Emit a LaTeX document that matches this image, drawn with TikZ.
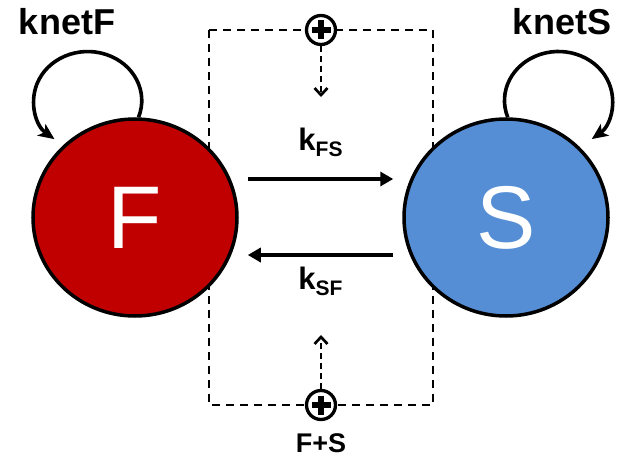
\documentclass[tikz,border=0pt]{standalone}
\usepackage{fontspec}
\setmainfont{Liberation Sans}
\usetikzlibrary{arrows.meta,shapes.geometric}
\definecolor{fastred}{RGB}{192,0,0}
\definecolor{slowblue}{RGB}{85,142,213}
\newcommand{\ratelabel}[2]{#1\raisebox{-6pt}{\fontsize{21}{21}\selectfont #2}}
\begin{document}
\begin{tikzpicture}
[x=1pt,y=1pt,
  statedecorate/.style={shape=ellipse,minimum width=204pt,minimum height=197pt,inner sep=0pt,draw,line width=3.5pt,text=white,font=\fontsize{89}{89}\selectfont},%
  sumdecorate/.style={shape=circle,minimum size=29pt,inner sep=0pt,draw,line width=3.3pt,fill=white,
    path picture={\draw[line width=5.5pt] ([xshift=5pt]path picture bounding box.west) -- ([xshift=-5pt]path picture bounding box.east)
      ([yshift=-5pt]path picture bounding box.north) -- ([yshift=5pt]path picture bounding box.south);}},%
  ratedecorate/.style={-{Triangle[length=13pt,width=14pt]},line width=4pt,shorten <=9pt,shorten >=9pt},%
  loopdecorate/.style={-{Stealth[length=16pt,width=14pt,inset=4pt]},line width=3.6pt},%
  boxdecorate/.style={dash pattern=on 8pt off 6pt,line width=2.7pt},%
  feeddecorate/.style={dash pattern=on 6pt off 4pt,line width=2.7pt,-{Straight Barb[length=7pt,width=13pt]}},%
  labeldecorate/.style={font=\fontsize{36}{36}\selectfont\bfseries},%
  ratefont/.style={font=\fontsize{31}{31}\selectfont\bfseries}]
\useasboundingbox (0,0) rectangle (623,-457);
% feedback box behind the states
\draw[boxdecorate] (209,-30) rectangle (433,-405);
% states
\node (F) at (135,-217.5) [statedecorate,fill=fastred] {F};
\node (S) at (506,-217.5) [statedecorate,fill=slowblue] {S};
% summing points
\node (topsum) at (321,-30) [sumdecorate] {};
\node (botsum) at (321,-405) [sumdecorate] {};
\coordinate (topin) at (321,-97);
\coordinate (botin) at (321,-335);
\node (sumlabel) [below,yshift=-9pt,font=\fontsize{27}{27}\selectfont\bfseries] at (botsum.south) {F+S};
% labels of the self loops
\node (knetF) at (67,-35) [labeldecorate,anchor=base] {knetF};
\node (knetS) at (562,-35) [labeldecorate,anchor=base] {knetS};
% transitions
\draw[ratedecorate] ([yshift=38.5pt]F.east) -- node[above=17pt,ratefont]{\ratelabel{k}{FS}} ([yshift=38.5pt]S.west);
\draw[ratedecorate] ([yshift=-37.5pt]S.west) -- node[below=6.5pt,ratefont]{\ratelabel{k}{SF}} ([yshift=-37.5pt]F.east);
\draw[loopdecorate] (F.88) arc[start angle=-20,end angle=232,x radius=54pt,y radius=49pt];
\draw[loopdecorate] (S.89) arc[start angle=200,end angle=-52,x radius=54pt,y radius=49pt];
% feedback into the rates
\draw[feeddecorate] (topsum) -- (topin);
\draw[feeddecorate] (botsum) -- (botin);
\end{tikzpicture}
\end{document}
